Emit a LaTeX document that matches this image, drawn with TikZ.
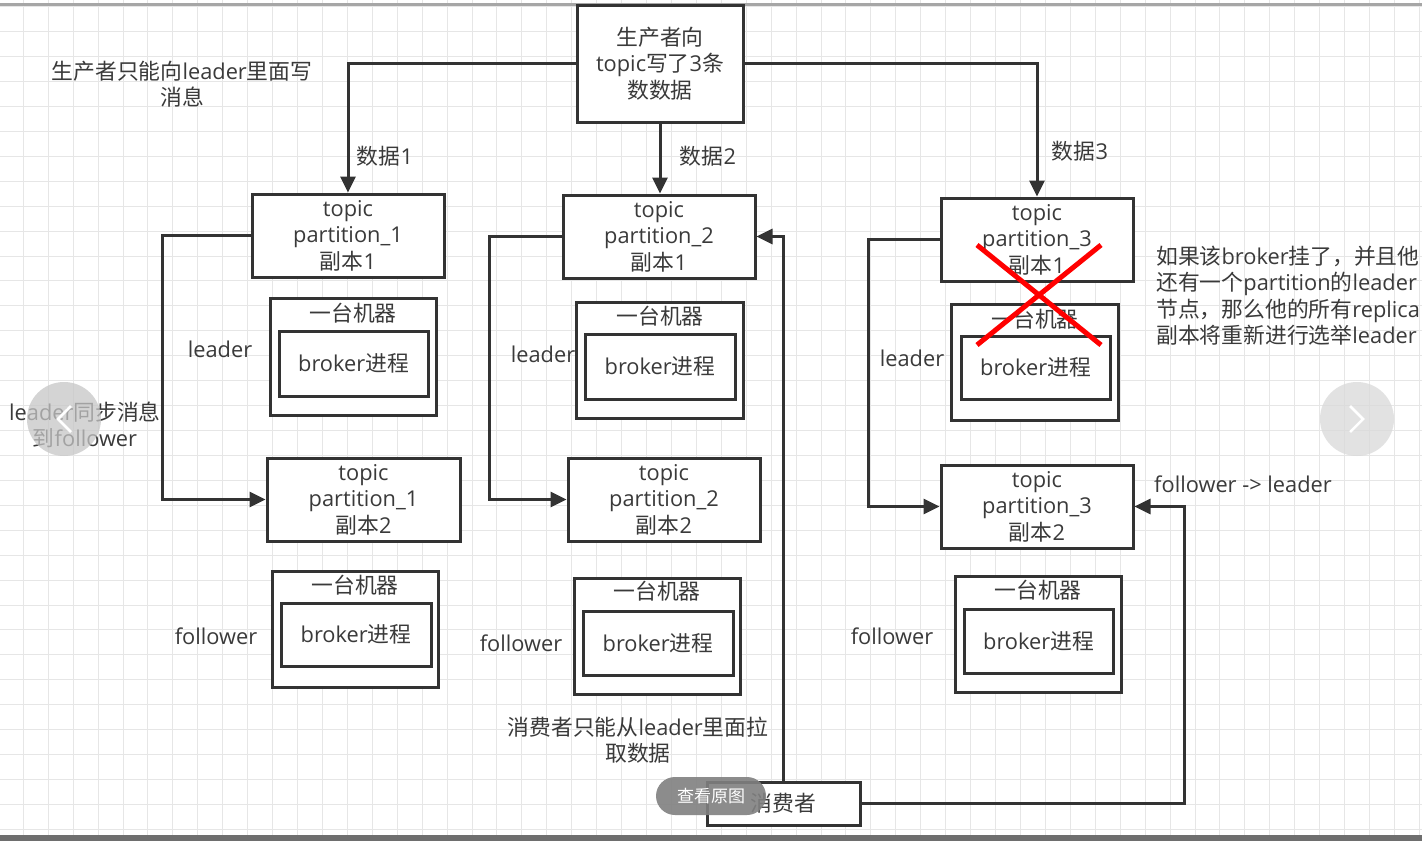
\documentclass[tikz,border=0pt]{standalone}
\usepackage{fontspec}
\setmainfont{Open Sans}
\newfontfamily\cjkfam{Noto Sans CJK SC}
\newcommand\zh[1]{{\cjkfam #1}}
\usetikzlibrary{arrows.meta}
\definecolor{ink}{HTML}{333333}
\definecolor{txt}{HTML}{3A3A3A}
\definecolor{gridc}{HTML}{E6E6E6}
\definecolor{barc}{HTML}{6E6E6E}
\definecolor{pillc}{HTML}{808080}
\tikzset{
  box/.style={draw=ink, line width=3pt, fill=white, inner sep=0pt, align=center, text=txt,
    font=\fontsize{21.8}{26.5}\selectfont},
  lbl/.style={inner sep=0pt, align=center, text=txt, font=\fontsize{21.8}{26.5}\selectfont},
  conn/.style={draw=ink, line width=3pt, -{Triangle[length=16pt,width=15pt]}},
  crossline/.style={draw=red, line width=5pt},
}
\begin{document}
\begin{tikzpicture}[x=1pt,y=-1pt]
\useasboundingbox (0,0) rectangle (1422,841);
\fill[white] (0,0) rectangle (1422,841);
% grid
\foreach \i in {0,...,57} { \draw[gridc, line width=1pt] ({23.3+\i*24.93},0) -- ({23.3+\i*24.93},841); }
\foreach \j in {0,...,34} { \draw[gridc, line width=1pt] (0,{6.7+\j*24.93}) -- (1422,{6.7+\j*24.93}); }
\fill[gray!70] (0,3) rectangle (1422,6);
\fill[barc] (0,835) rectangle (1422,841);

% producer
\node[box, minimum width=166pt, minimum height=117pt] (prod) at (660,63.5) {\zh{生产者向}\\topic\zh{写了}3\zh{条}\\\zh{数数据}};

% partitions
\node[box, minimum width=192pt, minimum height=83pt] (p1a) at (348,235.5) {topic\\partition\_1\\\zh{副本}1};
\node[box, minimum width=193pt, minimum height=83pt] (p1b) at (363.5,499.5) {topic\\partition\_1\\\zh{副本}2};
\node[box, minimum width=192pt, minimum height=83pt] (p2a) at (659,236.5) {topic\\partition\_2\\\zh{副本}1};
\node[box, minimum width=192pt, minimum height=83pt] (p2b) at (664,499.5) {topic\\partition\_2\\\zh{副本}2};
\node[box, minimum width=192pt, minimum height=83pt] (p3a) at (1037,239.5) {topic\\partition\_3\\\zh{副本}1};
\node[box, minimum width=192pt, minimum height=83pt] (p3b) at (1037,506.5) {topic\\partition\_3\\\zh{副本}2};

% machines
\node[box, minimum width=166pt, minimum height=117pt] (m1a) at (353,356.5) {};
\node[lbl] (m1al) at (353,313) {\zh{一台机器}};
\node[box, minimum width=149pt, minimum height=65pt] (b1a) at (353.5,363.5) {broker\zh{进程}};

\node[box, minimum width=166pt, minimum height=116pt] (m1b) at (355,629) {};
\node[lbl] (m1bl) at (355,585) {\zh{一台机器}};
\node[box, minimum width=150pt, minimum height=63pt] (b1b) at (356,634.5) {broker\zh{进程}};

\node[box, minimum width=167pt, minimum height=116pt] (m2a) at (659.5,360) {};
\node[lbl] (m2al) at (660,316) {\zh{一台机器}};
\node[box, minimum width=150pt, minimum height=65pt] (b2a) at (660,366.5) {broker\zh{进程}};

\node[box, minimum width=166pt, minimum height=116pt] (m2b) at (657,636) {};
\node[lbl] (m2bl) at (657,591) {\zh{一台机器}};
\node[box, minimum width=150pt, minimum height=64pt] (b2b) at (658,643) {broker\zh{进程}};

\node[box, minimum width=167pt, minimum height=116pt] (m3a) at (1034.5,362) {};
\node[lbl] (m3al) at (1035,319) {\zh{一台机器}};
\node[box, minimum width=149pt, minimum height=63pt] (b3a) at (1035.5,367.5) {broker\zh{进程}};

\node[box, minimum width=166pt, minimum height=116pt] (m3b) at (1038,634) {};
\node[lbl] (m3bl) at (1038,590) {\zh{一台机器}};
\node[box, minimum width=149pt, minimum height=64pt] (b3b) at (1038.5,641) {broker\zh{进程}};

% consumer
\node[box, minimum width=153pt, minimum height=43pt] (cons) at (783.5,803.5) {\zh{消费者}};

% connectors from producer
\draw[conn] (prod.west) -| (p1a.north);
\draw[conn] (prod.south) -- (prod.south |- p2a.north);
\draw[conn] (prod.east) -| (p3a.north);

% leader -> follower
\draw[conn] (p1a.west) -- ++(-88,0) |- (p1b.west);
\draw[conn] (p2a.west) -- ++(-72,0) |- (p2b.west);
\draw[conn] (p3a.west) -- ++(-71,0) |- (p3b.west);

% consumer
\draw[conn] (cons.north) |- (p2a.east);
\draw[conn] (cons.east) -- ++(323,0) |- (p3b.east);

% labels
\node[lbl] (d1) at (385,156) {\zh{数据}1};
\node[lbl] (d2) at (708,156) {\zh{数据}2};
\node[lbl] (d3) at (1080,151) {\zh{数据}3};
\node[lbl] (l1) at (220,349) {leader};
\node[lbl] (l2) at (543,354) {leader};
\node[lbl] (l3) at (912,358) {leader};
\node[lbl] (f1) at (216,636) {follower};
\node[lbl] (f2) at (521,643) {follower};
\node[lbl] (f3) at (892,636) {follower};
\node[lbl] (fl) at (1243,484) {follower -> leader};
\node[lbl] (n1) at (182,84) {\zh{生产者只能向}leader\zh{里面写}\\\zh{消息}};
\node[lbl] (n2) at (85,425) {leader\zh{同步消息}\\\zh{到}follower};
\node[lbl] (n3) at (638,740) {\zh{消费者只能从}leader\zh{里面拉}\\\zh{取数据}};
\node[lbl, align=left, anchor=west] (n4) at (1156,295.5) {\zh{如果该}broker\zh{挂了，并且他}\\\zh{还有一个}partition\zh{的}leader\\\zh{节点，那么他的所有}replica\\\zh{副本将重新进行选举}leader};

% red cross
\draw[crossline] (977,245) -- (1101,345);
\draw[crossline] (1101,245) -- (977,345);

% viewer overlays
\fill[gray!45, opacity=0.75] (64,419) circle (37);
\draw[white, line width=2.5pt] (71,406) -- (58,419) -- (71,432);
\fill[gray!30, opacity=0.75] (1357,419) circle (37);
\draw[white, line width=2.5pt] (1350,406) -- (1363,419) -- (1350,432);
\fill[pillc, opacity=0.9, rounded corners=19pt] (656,777) rectangle (766,815);
\node[inner sep=0pt, text=white, font=\fontsize{17}{18}\selectfont] (pill) at (711,796) {\zh{查看原图}};
\end{tikzpicture}
\end{document}
